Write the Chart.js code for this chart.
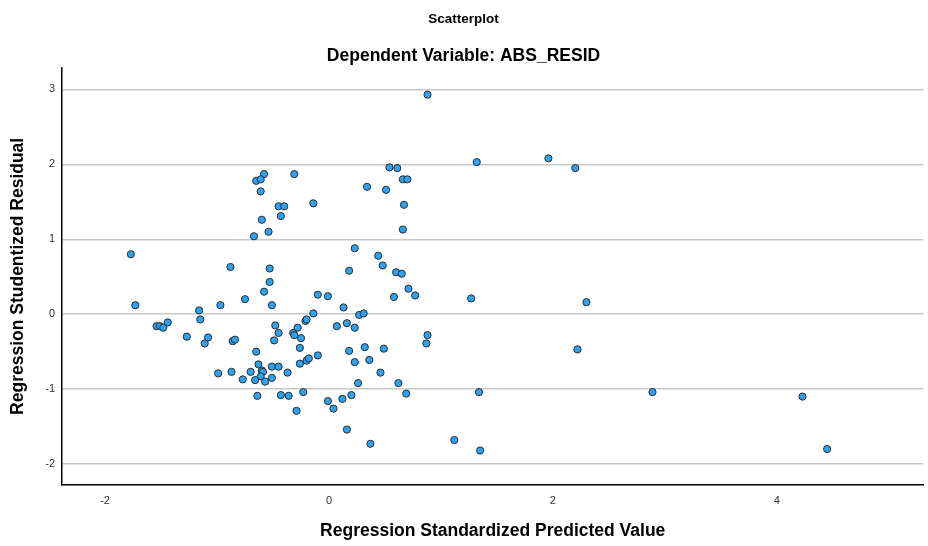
<!DOCTYPE html>
<html>
<head>
<meta charset="utf-8">
<script src="https://cdn.jsdelivr.net/npm/chart.js@4.4.1/dist/chart.umd.min.js"></script>
<style>
html,body{margin:0;padding:0;background:#fff;}
#wrap{width:928px;height:546px;position:relative;}
</style>
</head>
<body>
<div id="wrap"><canvas id="c" width="928" height="546"></canvas></div>
<script>
const xValues = [
  -1.77,-0.88,-0.53,-0.58,-0.65,-0.61,-0.61,-0.31,-0.45,-0.40,-0.43,-0.14,-0.60,-0.54,-0.67,
  -1.73,-1.54,-1.51,-1.48,-1.44,-1.27,-1.16,-1.15,-1.11,-1.08,-0.97,-0.99,-0.87,-0.75,-0.77,
  -0.86,-0.84,-0.70,-0.65,-0.63,-0.60,-0.59,-0.61,-0.66,-0.57,-0.64,-0.58,-0.53,-0.51,-0.48,
  -0.45,-0.49,-0.51,-0.45,-0.51,-0.37,-0.43,-0.36,-0.29,-0.32,-0.31,-0.28,-0.25,-0.21,-0.20,
  -0.14,-0.26,-0.26,-0.20,-0.18,-0.10,-0.10,-0.01,-0.23,-0.01,
  0.88,1.32,1.96,2.20,0.54,0.61,0.66,0.70,0.34,0.51,0.67,0.66,0.23,0.44,0.48,0.18,0.60,0.65,
  0.71,0.77,0.58,1.27,2.30,0.13,0.27,0.31,0.07,0.16,0.23,0.88,0.87,0.18,0.32,0.49,0.23,0.36,
  2.22,0.46,0.26,0.62,0.04,0.12,0.20,0.69,1.34,0.16,0.37,1.12,1.35,2.89,4.23,4.45
];
const yValues = [
  0.80,0.63,0.61,1.87,1.78,1.80,1.64,1.87,1.44,1.44,1.31,1.48,1.26,1.10,1.04,
  0.12,-0.16,-0.16,-0.18,-0.11,-0.30,0.05,-0.07,-0.39,-0.31,0.12,-0.79,-0.77,0.20,-0.87,
  -0.36,-0.34,-0.77,-0.50,-0.67,-0.75,-0.77,-0.83,-0.88,-0.90,-1.09,0.30,0.43,0.12,-0.15,
  -0.25,-0.35,-0.70,-0.70,-0.85,-0.78,-1.08,-1.09,-1.29,-0.25,-0.28,-0.18,-0.32,-0.09,-0.07,
  0.01,-0.45,-0.66,-0.62,-0.59,-0.55,0.26,0.24,-1.04,-1.16,
  2.93,2.03,2.08,1.95,1.96,1.95,1.80,1.80,1.70,1.66,1.46,1.13,0.88,0.78,0.65,0.58,0.56,0.54,
  0.34,0.25,0.23,0.21,0.16,0.09,-0.01,0.01,-0.16,-0.12,-0.18,-0.28,-0.39,-0.49,-0.44,-0.46,-0.64,-0.61,
  -0.47,-0.78,-0.92,-0.92,-1.26,-1.13,-1.08,-1.06,-1.04,-1.54,-1.73,-1.68,-1.82,-1.04,-1.10,-1.80
];
const xTicks = [-2, 0, 2, 4];
const yTicks = [-2, -1, 0, 1, 2, 3];
const xRange = [-2.385, 5.31];
const yRange = [-2.28, 3.29];
const chartTitle = 'Scatterplot';
const chartSubtitle = 'Dependent Variable: ABS_RESID';
const xTitle = 'Regression Standardized Predicted Value';
const yTitle = 'Regression Studentized Residual';

const points = xValues.map((x, i) => ({x: x, y: yValues[i]}));
const FONT = "'Liberation Sans', Arial, sans-serif";

new Chart(document.getElementById('c'), {
  type: 'scatter',
  data: {
    datasets: [{
      data: points,
      pointRadius: 3.6,
      pointHoverRadius: 3.6,
      pointBackgroundColor: '#2ba3f2',
      pointBorderColor: '#2b2b2b',
      pointBorderWidth: 1
    }]
  },
  options: {
    responsive: false,
    animation: false,
    devicePixelRatio: 1,
    layout: { padding: { left: 0, right: 1, top: 0, bottom: 0 } },
    plugins: {
      legend: { display: false },
      tooltip: { enabled: false },
      title: {
        display: true,
        text: chartTitle,
        color: '#000',
        font: { family: FONT, size: 13.5, weight: 'bold' },
        padding: { top: 11, bottom: 18 }
      },
      subtitle: {
        display: true,
        text: chartSubtitle,
        color: '#000',
        font: { family: FONT, size: 17.5, weight: 'bold' },
        padding: { top: 0, bottom: 1.5 }
      }
    },
    scales: {
      x: {
        type: 'linear',
        min: xRange[0],
        max: xRange[1],
        afterBuildTicks: s => { s.ticks = xTicks.map(v => ({value: v})); },
        afterFit: s => { s.height = 61; },
        grid: { display: false, drawTicks: false },
        border: { display: true, color: '#000', width: 1.5 },
        ticks: { color: '#333', font: { family: FONT, size: 11 }, padding: 9 },
        title: {
          display: true, text: xTitle, color: '#000',
          font: { family: FONT, size: 17.5, weight: 'bold' },
          padding: { top: 12, bottom: 4 }
        }
      },
      y: {
        type: 'linear',
        min: yRange[0],
        max: yRange[1],
        afterBuildTicks: s => { s.ticks = yTicks.map(v => ({value: v})); },
        afterFit: s => { s.width = 62; },
        grid: { display: true, color: '#c8c8c8', lineWidth: 1.5, drawTicks: false },
        border: { display: true, color: '#000', width: 1.5 },
        ticks: { color: '#333', font: { family: FONT, size: 11 }, padding: 7 },
        title: {
          display: true, text: yTitle, color: '#000',
          font: { family: FONT, size: 17.5, weight: 'bold' },
          padding: { top: 8, bottom: 0 }
        }
      }
    }
  }
});
</script>
</body>
</html>
